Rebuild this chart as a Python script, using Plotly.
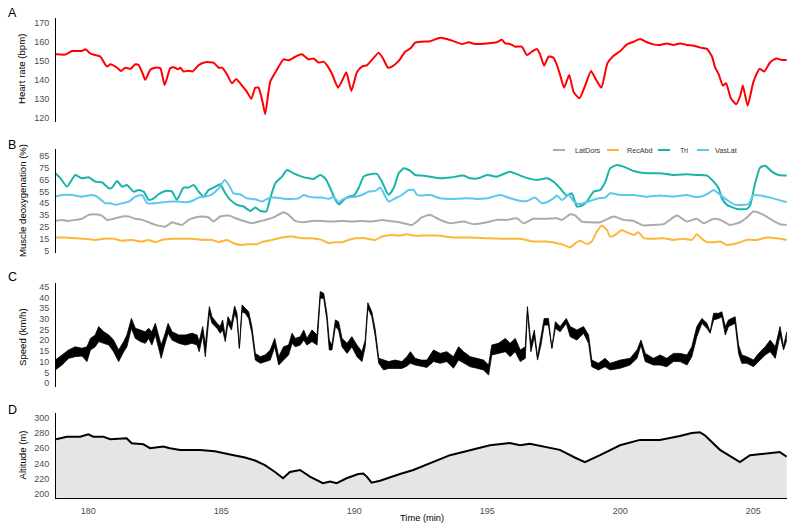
import plotly.graph_objects as go

# ---------------- data ----------------
hr_time = [178.76, 179.13, 179.39, 179.76, 179.89, 180.07, 180.33, 180.45, 180.70, 180.83, 181.08, 181.23,
           181.39, 181.58, 181.77, 181.89, 182.04, 182.14, 182.33, 182.52, 182.71, 182.87, 183.08, 183.21,
           183.37, 183.46, 183.58, 183.75, 183.92, 184.15, 184.40, 184.71, 184.90, 185.03, 185.21, 185.40,
           185.56, 185.71, 185.96, 186.13, 186.28, 186.40, 186.55, 186.65, 186.84, 187.09, 187.34, 187.53,
           187.78, 188.03, 188.28, 188.47, 188.66, 188.85, 188.97, 189.16, 189.39, 189.54, 189.70, 189.89,
           190.10, 190.29, 190.48, 190.66, 190.92, 191.08, 191.27, 191.42, 191.67, 191.92, 192.11, 192.29,
           192.52, 192.86, 193.23, 193.48, 193.73, 194.05, 194.30, 194.55, 194.99, 195.36, 195.55, 195.68,
           195.86, 196.05, 196.30, 196.49, 196.68, 196.87, 196.99, 197.14, 197.31, 197.49, 197.62, 197.74,
           197.89, 198.08, 198.25, 198.47, 198.68, 198.90, 199.06, 199.29, 199.52, 199.75, 200.00, 200.25,
           200.50, 200.75, 201.00, 201.25, 201.50, 201.75, 202.00, 202.25, 202.51, 202.76, 203.01, 203.26,
           203.45, 203.57, 203.70, 203.86, 203.98, 204.16, 204.36, 204.51, 204.61, 204.79, 205.01, 205.24,
           205.41, 205.64, 205.86, 206.08, 206.26]
hr_bpm = [153.7, 153.5, 155.4, 155.4, 156.3, 154.2, 153.0, 152.5, 147.2, 148.4, 146.6, 144.9,
          146.6, 146.0, 148.4, 148.0, 143.7, 140.2, 145.5, 146.6, 146.3, 137.5, 146.3, 146.9,
          145.8, 146.6, 144.6, 145.0, 144.6, 148.0, 149.5, 149.3, 146.6, 146.6, 143.2, 138.4,
          140.7, 138.4, 134.0, 130.2, 136.1, 136.1, 128.7, 122.1, 139.3, 145.5, 151.0, 150.5,
          152.4, 153.7, 151.0, 151.5, 149.3, 149.8, 148.0, 143.4, 136.1, 139.7, 144.2, 134.4,
          144.2, 147.2, 148.0, 150.7, 154.5, 151.5, 146.6, 147.2, 150.2, 155.1, 156.8, 159.8,
          160.3, 160.6, 162.4, 161.7, 160.6, 159.1, 160.0, 159.1, 159.4, 160.0, 161.3, 159.4,
          159.1, 157.7, 157.7, 153.3, 155.1, 156.5, 153.5, 147.7, 152.5, 151.9, 148.0, 142.8,
          136.1, 142.8, 133.7, 130.5, 137.2, 144.9, 141.1, 136.1, 149.0, 152.9, 155.4, 158.9,
          160.3, 161.7, 160.0, 158.9, 158.6, 159.4, 158.6, 159.4, 158.6, 158.2, 157.2, 156.5,
          152.5, 146.6, 143.2, 137.2, 138.4, 130.5, 127.4, 131.7, 137.2, 126.6, 139.3, 146.0,
          144.6, 149.5, 151.5, 150.7, 150.7]

latdors_time = [178.76, 179.01, 179.26, 179.51, 179.76, 180.01, 180.26, 180.51, 180.70, 180.95, 181.27, 181.52,
                181.77, 182.02, 182.27, 182.52, 182.90, 183.15, 183.27, 183.52, 183.77, 184.02, 184.27, 184.52,
                184.71, 184.96, 185.28, 185.59, 185.84, 186.15, 186.40, 186.65, 187.03, 187.34, 187.53, 187.78,
                188.10, 188.41, 188.78, 189.16, 189.54, 189.91, 190.29, 190.66, 191.04, 191.29, 191.54, 191.86,
                192.17, 192.36, 192.52, 192.86, 193.23, 193.61, 194.11, 194.49, 194.99, 195.36, 195.74, 196.11,
                196.36, 196.74, 197.24, 197.62, 197.81, 198.12, 198.31, 198.56, 198.87, 199.25, 199.75, 200.12,
                200.50, 200.88, 201.25, 201.63, 202.13, 202.51, 202.88, 203.13, 203.51, 203.76, 204.13, 204.51,
                204.76, 205.01, 205.39, 205.76, 206.01, 206.26]
latdors_val = [30.2, 31.1, 30.2, 31.1, 32.0, 35.3, 35.8, 34.7, 31.1, 32.0, 33.9, 33.9,
               32.0, 31.1, 29.1, 26.9, 25.5, 29.1, 28.3, 26.9, 31.1, 33.1, 33.9, 33.1,
               29.7, 33.9, 34.7, 32.0, 30.2, 28.3, 29.7, 31.1, 33.9, 37.5, 35.3, 30.2,
               29.1, 30.2, 30.2, 29.7, 30.2, 29.7, 30.2, 29.7, 31.1, 30.2, 29.7, 28.3,
               26.9, 29.7, 33.1, 35.3, 31.1, 28.3, 29.7, 27.5, 29.1, 31.1, 31.1, 32.5,
               28.3, 32.0, 32.0, 32.5, 31.1, 35.8, 34.7, 29.7, 29.1, 29.1, 33.9, 31.1,
               30.2, 26.4, 26.9, 27.5, 34.7, 29.7, 32.0, 28.3, 32.0, 31.1, 26.9, 29.1,
               33.1, 38.1, 35.3, 30.2, 27.5, 26.9]

recabd_time = [178.76, 179.14, 179.51, 179.89, 180.26, 180.58, 180.95, 181.27, 181.64, 182.02, 182.27, 182.52,
               182.77, 183.15, 183.52, 183.90, 184.27, 184.65, 184.90, 185.21, 185.46, 185.71, 186.03, 186.34,
               186.59, 186.91, 187.28, 187.66, 188.03, 188.41, 188.78, 189.04, 189.29, 189.54, 189.79, 190.04,
               190.41, 190.79, 191.04, 191.42, 191.67, 191.98, 192.23, 192.52, 193.11, 193.73, 194.36, 194.99,
               195.61, 196.24, 196.74, 197.24, 197.62, 197.87, 198.12, 198.31, 198.50, 198.75, 198.93, 199.12,
               199.31, 199.50, 199.62, 199.81, 200.06, 200.25, 200.50, 200.69, 200.88, 201.25, 201.63, 202.00,
               202.38, 202.69, 202.88, 203.07, 203.26, 203.51, 203.76, 204.01, 204.39, 204.76, 205.14, 205.51,
               205.89, 206.26]
recabd_val = [16.3, 16.3, 15.7, 15.2, 14.3, 15.2, 15.2, 13.5, 14.3, 12.9, 14.3, 12.4,
              14.3, 15.2, 15.2, 15.2, 14.3, 14.3, 12.4, 14.3, 11.5, 10.1, 10.7, 10.7,
              12.9, 14.3, 16.3, 17.1, 15.7, 15.7, 14.3, 11.5, 12.4, 12.4, 14.3, 15.7,
              15.7, 14.3, 17.1, 18.5, 17.9, 19.1, 17.9, 17.9, 17.9, 16.3, 16.3, 15.7,
              15.2, 15.2, 12.9, 12.9, 11.5, 10.1, 7.9, 11.5, 13.5, 10.7, 12.9, 21.3,
              26.3, 22.7, 17.1, 18.5, 22.7, 20.7, 18.5, 20.7, 15.7, 15.2, 15.7, 14.3,
              15.2, 14.3, 19.1, 15.2, 12.4, 12.4, 12.9, 10.1, 11.5, 14.3, 14.3, 16.3,
              15.7, 14.3]

tri_time = [178.76, 178.95, 179.20, 179.51, 179.76, 180.01, 180.26, 180.51, 180.77, 180.89, 181.08, 181.27,
            181.45, 181.71, 181.89, 182.08, 182.27, 182.46, 182.64, 182.90, 183.15, 183.33, 183.58, 183.77,
            183.96, 184.15, 184.34, 184.52, 184.78, 184.96, 185.15, 185.34, 185.59, 185.84, 186.09, 186.28,
            186.47, 186.69, 186.84, 187.03, 187.28, 187.47, 187.72, 188.03, 188.28, 188.47, 188.72, 188.91,
            189.10, 189.29, 189.44, 189.60, 189.79, 189.98, 190.16, 190.35, 190.60, 190.85, 191.04, 191.29,
            191.48, 191.67, 191.86, 192.11, 192.29, 192.52, 192.86, 193.23, 193.61, 194.11, 194.36, 194.67,
            194.99, 195.36, 195.86, 196.24, 196.62, 196.87, 197.24, 197.49, 197.74, 197.99, 198.18, 198.37,
            198.56, 198.75, 199.00, 199.25, 199.44, 199.62, 199.87, 200.12, 200.50, 201.00, 201.50, 202.00,
            202.51, 202.88, 203.26, 203.51, 203.70, 203.82, 204.01, 204.39, 204.76, 204.89, 205.07, 205.26,
            205.45, 205.70, 205.95, 206.26]
tri_val = [70.2, 66.0, 59.0, 68.8, 66.0, 66.9, 63.2, 62.7, 57.6, 58.2, 63.8, 59.0,
           60.4, 54.8, 56.2, 54.8, 47.9, 49.2, 52.6, 55.4, 54.8, 47.9, 58.2, 58.2,
           60.4, 54.8, 50.6, 56.2, 59.0, 61.0, 53.4, 47.9, 43.7, 42.3, 38.6, 41.4,
           38.6, 38.1, 49.2, 61.8, 67.4, 73.0, 70.2, 67.4, 66.0, 65.5, 68.8, 66.0,
           57.6, 47.9, 44.2, 47.9, 50.6, 51.5, 57.6, 67.4, 69.4, 69.7, 63.2, 52.1,
           57.6, 70.2, 74.4, 72.2, 68.8, 68.3, 67.4, 66.0, 66.6, 68.3, 66.0, 66.0,
           68.8, 67.4, 71.6, 68.3, 65.5, 64.6, 66.0, 63.2, 57.6, 51.5, 53.4, 42.3,
           43.1, 46.5, 54.8, 56.2, 63.2, 74.4, 77.2, 75.8, 72.2, 70.2, 70.2, 68.8,
           69.4, 68.8, 68.3, 63.2, 57.6, 49.2, 43.7, 40.3, 40.3, 43.7, 61.8, 75.0,
           76.6, 71.6, 68.8, 68.3]

vaslat_time = [178.76, 179.01, 179.39, 179.76, 180.14, 180.33, 180.64, 180.83, 181.02, 181.27, 181.52, 181.77,
               182.02, 182.21, 182.52, 182.83, 183.08, 183.33, 183.65, 183.90, 184.15, 184.40, 184.65, 184.90,
               185.13, 185.28, 185.46, 185.71, 185.96, 186.28, 186.53, 186.78, 187.03, 187.41, 187.66, 187.91,
               188.10, 188.28, 188.53, 188.78, 189.04, 189.22, 189.41, 189.60, 189.79, 190.04, 190.29, 190.54,
               190.79, 190.98, 191.17, 191.29, 191.54, 191.79, 192.04, 192.23, 192.36, 192.52, 192.86, 193.23,
               193.73, 194.23, 194.61, 194.99, 195.49, 195.86, 196.24, 196.49, 196.80, 197.05, 197.24, 197.49,
               197.62, 197.81, 198.06, 198.24, 198.43, 198.62, 198.87, 199.18, 199.43, 199.62, 200.00, 200.50,
               201.00, 201.50, 202.00, 202.51, 202.76, 203.01, 203.26, 203.51, 203.76, 204.01, 204.32, 204.64,
               204.82, 205.01, 205.26, 205.64, 205.95, 206.26]
vaslat_val = [50.6, 52.0, 52.0, 50.6, 52.0, 50.6, 45.1, 45.1, 43.7, 45.1, 46.5, 50.6,
              52.0, 45.1, 45.1, 45.9, 46.5, 46.5, 45.9, 47.0, 49.8, 50.6, 52.6, 57.6,
              64.6, 60.4, 53.4, 52.6, 49.2, 48.4, 46.5, 49.2, 49.8, 48.7, 48.7, 49.2,
              52.0, 50.6, 49.8, 49.8, 48.7, 50.6, 45.9, 48.7, 49.8, 50.6, 52.0, 54.8,
              55.4, 58.2, 50.6, 46.5, 49.2, 52.0, 56.2, 56.2, 52.0, 51.5, 52.0, 49.2,
              48.7, 49.2, 48.7, 49.2, 52.0, 49.2, 47.0, 47.0, 49.8, 45.1, 45.9, 49.2,
              51.5, 47.8, 52.0, 47.0, 44.2, 45.1, 47.0, 49.2, 49.8, 53.4, 52.0, 52.0,
              50.6, 51.5, 50.6, 52.0, 50.6, 50.6, 52.6, 56.2, 52.0, 47.9, 43.7, 43.7,
              44.2, 52.0, 51.5, 49.8, 47.9, 45.9]

speed_time = [178.76, 179.01, 179.26, 179.51, 179.76, 179.95, 180.08, 180.26, 180.39, 180.58, 180.77, 180.95,
              181.14, 181.33, 181.45, 181.62, 181.77, 181.96, 182.14, 182.27, 182.39, 182.52, 182.64, 182.74,
              182.87, 183.00, 183.15, 183.40, 183.65, 183.90, 184.09, 184.17, 184.30, 184.40, 184.55, 184.65,
              184.84, 184.96, 185.05, 185.15, 185.25, 185.38, 185.50, 185.59, 185.68, 185.78, 185.90, 186.03,
              186.15, 186.28, 186.47, 186.65, 186.84, 187.01, 187.16, 187.34, 187.53, 187.66, 187.78, 187.97,
              188.10, 188.22, 188.41, 188.60, 188.72, 188.85, 188.97, 189.06, 189.16, 189.29, 189.41, 189.54,
              189.73, 189.91, 190.10, 190.29, 190.41, 190.51, 190.66, 190.79, 190.92, 191.10, 191.29, 191.54,
              191.79, 191.98, 192.11, 192.29, 192.52, 192.73, 192.98, 193.23, 193.48, 193.73, 193.92, 194.11,
              194.36, 194.61, 194.86, 195.05, 195.17, 195.42, 195.68, 195.86, 196.05, 196.24, 196.43, 196.51,
              196.64, 196.77, 196.89, 197.02, 197.14, 197.30, 197.43, 197.56, 197.74, 197.97, 198.12, 198.37,
              198.62, 198.81, 198.93, 199.18, 199.43, 199.62, 200.00, 200.37, 200.63, 200.78, 200.94, 201.25,
              201.50, 201.75, 202.00, 202.25, 202.51, 202.69, 202.88, 203.07, 203.26, 203.38, 203.51, 203.70,
              203.82, 203.95, 204.07, 204.32, 204.45, 204.57, 204.76, 205.01, 205.20, 205.45, 205.64, 205.83,
              206.01, 206.14, 206.26]
speed_hi = [10.8, 13.2, 15.5, 17.0, 16.3, 17.0, 20.9, 22.5, 26.4, 24.0, 22.5, 20.1,
            15.5, 19.4, 22.5, 30.2, 25.6, 24.8, 24.0, 25.6, 24.0, 27.9, 21.7, 17.8,
            22.5, 27.9, 24.0, 22.5, 22.5, 23.3, 22.5, 19.4, 26.4, 17.8, 35.7, 31.0,
            27.9, 26.4, 29.5, 21.7, 31.0, 27.9, 36.0, 32.6, 16.3, 36.5, 34.9, 33.3,
            26.4, 13.9, 12.4, 13.2, 15.5, 20.9, 12.4, 17.0, 17.8, 23.3, 20.9, 21.7,
            24.8, 20.9, 24.8, 22.5, 42.7, 41.9, 32.6, 20.1, 17.8, 29.5, 28.7, 20.9,
            18.6, 21.7, 17.8, 14.7, 20.1, 37.5, 33.3, 24.8, 11.6, 10.8, 10.1, 10.8,
            10.1, 12.4, 14.7, 11.6, 10.8, 10.8, 15.5, 13.9, 14.7, 12.4, 17.0, 14.7,
            12.4, 11.6, 10.8, 8.5, 17.8, 18.6, 20.9, 18.6, 20.9, 15.5, 17.0, 35.7,
            18.6, 24.8, 12.4, 21.7, 30.2, 30.2, 16.3, 28.7, 26.4, 30.2, 26.4, 24.8,
            26.4, 22.5, 10.8, 9.3, 11.6, 9.3, 10.8, 11.6, 15.5, 20.1, 13.9, 11.6,
            13.2, 11.6, 13.9, 13.9, 13.2, 17.0, 26.4, 30.2, 27.9, 24.0, 32.6, 32.6,
            33.3, 26.4, 29.5, 31.0, 17.8, 13.2, 12.4, 10.8, 13.9, 17.0, 20.1, 17.0,
            26.4, 17.0, 24.0]
speed_lo = [6.2, 8.5, 11.6, 12.4, 12.7, 10.1, 15.5, 17.0, 19.4, 18.6, 17.8, 14.7,
            10.1, 14.7, 17.0, 25.6, 20.9, 19.4, 18.6, 20.9, 17.8, 22.5, 17.0, 11.6,
            17.8, 23.3, 20.1, 18.6, 17.8, 18.6, 17.8, 14.7, 22.5, 12.4, 32.6, 27.9,
            25.6, 23.3, 24.8, 19.4, 27.9, 24.8, 32.6, 29.5, 16.3, 33.3, 32.6, 30.2,
            23.3, 10.8, 9.3, 10.1, 10.8, 17.0, 8.5, 10.8, 13.2, 18.6, 17.0, 17.8,
            20.1, 17.8, 19.4, 17.8, 39.6, 39.6, 29.5, 15.5, 15.5, 26.4, 24.8, 17.0,
            13.9, 17.0, 12.4, 10.1, 17.0, 34.9, 31.0, 21.7, 9.3, 6.2, 6.9, 6.9,
            6.9, 8.0, 9.3, 8.5, 8.0, 7.4, 10.1, 9.3, 10.1, 7.0, 10.8, 9.3,
            7.7, 7.0, 6.2, 3.8, 13.2, 13.9, 14.7, 12.4, 14.7, 10.1, 11.6, 33.3,
            14.7, 21.7, 10.8, 17.8, 27.1, 27.1, 16.3, 25.6, 24.0, 27.9, 21.7, 20.1,
            23.3, 18.6, 7.7, 6.2, 7.7, 6.2, 7.0, 8.5, 11.6, 17.8, 10.1, 8.5,
            8.5, 7.7, 10.1, 10.1, 8.5, 12.4, 21.7, 27.9, 25.6, 23.3, 29.5, 30.2,
            31.0, 22.5, 26.4, 27.9, 13.9, 9.3, 9.3, 7.7, 10.1, 13.2, 14.7, 11.6,
            22.5, 15.5, 20.1]

alt_time = [178.79, 179.19, 179.69, 180.00, 180.19, 180.56, 180.82, 181.44, 181.63, 182.07, 182.32, 182.82,
            183.07, 183.45, 184.20, 184.76, 185.33, 185.89, 186.27, 186.64, 187.02, 187.32, 187.58, 187.96,
            188.33, 188.82, 189.09, 189.34, 189.71, 190.15, 190.34, 190.47, 190.65, 190.97, 191.72, 192.22,
            193.60, 195.10, 195.85, 196.23, 196.60, 197.73, 198.29, 198.67, 199.24, 199.99, 200.74, 201.49,
            202.24, 202.69, 202.99, 203.18, 203.75, 204.31, 204.50, 204.88, 205.63, 206.00, 206.26]
alt_m = [271.8, 275.2, 275.2, 278.3, 275.2, 275.2, 271.8, 273.1, 266.6, 265.2, 260.1, 262.3,
         260.1, 257.8, 257.8, 256.0, 252.0, 248.0, 244.0, 238.0, 229.0, 221.0, 229.0, 231.7,
         223.0, 214.4, 216.5, 214.4, 220.9, 226.5, 227.2, 223.0, 215.1, 217.6, 226.5, 231.7,
         251.0, 264.0, 267.0, 264.0, 266.0, 258.0, 248.0, 242.0, 251.0, 264.0, 271.0, 271.0,
         276.0, 280.0, 281.0, 277.0, 258.0, 246.0, 242.0, 251.0, 254.0, 255.0, 249.0]

muscle_names = ["LatDors", "RecAbd", "Tri", "VasLat"]
muscle_colors = ["#ABABAB", "#FDB737", "#19B3A9", "#5CC8EE"]
x_ticks = [180, 185, 190, 195, 200, 205]

# ---------------- layout helpers ----------------
W, H = 792, 528
ML, MR, MT, MB = 56, 5, 18, 30
PW, PH = W - ML - MR, H - MT - MB


def pxx(px):
    return (px - ML) / PW


def pxy(py):
    return (H - MB - py) / PH


FONT = "Liberation Sans, Arial, sans-serif"
TICKC = "#4D4D4D"

fig = go.Figure()

# Panel A
fig.add_trace(go.Scatter(x=hr_time, y=hr_bpm, mode="lines", showlegend=False,
                         line=dict(color="#FF0000", width=2, shape="spline", smoothing=0.5),
                         xaxis="x", yaxis="y"))

# Panel B
muscle_data = [(latdors_time, latdors_val), (recabd_time, recabd_val),
               (tri_time, tri_val), (vaslat_time, vaslat_val)]
for name, col, (t, v) in zip(muscle_names, muscle_colors, muscle_data):
    fig.add_trace(go.Scatter(x=t, y=v, mode="lines", name=name, showlegend=False,
                             line=dict(color=col, width=2, shape="spline", smoothing=0.5),
                             xaxis="x2", yaxis="y2"))

# Panel C (noisy speed drawn as its min/max envelope)
fig.add_trace(go.Scatter(x=speed_time, y=speed_lo, mode="lines", showlegend=False,
                         line=dict(color="black", width=0.8), xaxis="x3", yaxis="y3"))
fig.add_trace(go.Scatter(x=speed_time, y=speed_hi, mode="lines", showlegend=False,
                         line=dict(color="black", width=0.8), fill="tonexty", fillcolor="black",
                         xaxis="x3", yaxis="y3"))

# Panel D
fig.add_trace(go.Scatter(x=alt_time, y=alt_m, mode="lines", showlegend=False,
                         line=dict(color="black", width=2), fill="tozeroy", fillcolor="#E5E5E5",
                         xaxis="x4", yaxis="y4"))

xr = [178.785, 206.27]
panels = [
    # (y-domain pixels top,bottom), y-range, tickvals
    ((18, 122), [118.0, 172.8], list(range(120, 171, 10))),
    ((149, 253), [3.3, 90.6], list(range(5, 86, 10))),
    ((283, 387), [-1.74, 46.7], list(range(0, 46, 5))),
    ((413, 498), [195.1, 306.1], list(range(200, 301, 20))),
]

layout = dict(width=W, height=H, margin=dict(l=ML, r=MR, t=MT, b=MB),
              paper_bgcolor="white", plot_bgcolor="white",
              font=dict(family=FONT, size=9, color=TICKC), showlegend=False)

for i, ((top, bot), yr, tv) in enumerate(panels):
    sfx = "" if i == 0 else str(i + 1)
    last = (i == 3)
    layout["xaxis" + sfx] = dict(domain=[0, 1], range=xr, anchor="y" + sfx,
                                 showgrid=False, zeroline=False,
                                 showline=last, linecolor="black", linewidth=1,
                                 showticklabels=last, tickvals=x_ticks,
                                 ticks="outside" if last else "", ticklen=4,
                                 tickcolor="rgba(0,0,0,0)",
                                 tickfont=dict(size=9, color=TICKC, family=FONT))
    layout["yaxis" + sfx] = dict(domain=[pxy(bot), pxy(top)], range=yr, anchor="x" + sfx,
                                 showgrid=False, zeroline=False, showline=True,
                                 linecolor="black", linewidth=1, tickvals=tv,
                                 ticks="outside", ticklen=4, tickcolor="rgba(0,0,0,0)",
                                 tickfont=dict(size=9, color=TICKC, family=FONT))

fig.update_layout(**layout)

# Panel letters, axis titles
ann = []
for letter, py in zip("ABCD", [13, 145, 277, 410]):
    ann.append(dict(text=letter, x=pxx(12), y=pxy(py), xref="paper", yref="paper",
                    showarrow=False, xanchor="center", yanchor="middle",
                    font=dict(size=12.5, color="black", family=FONT)))
ytitles = ["Heart rate (bpm)", "Muscle deoxygenation (%)", "Speed (km/h)", "Altitude (m)"]
for title, py in zip(ytitles, [69, 201, 337, 455.5]):
    ann.append(dict(text=title, x=pxx(22), y=pxy(py), xref="paper", yref="paper",
                    showarrow=False, textangle=-90, xanchor="center", yanchor="middle",
                    font=dict(size=9.6, color="black", family=FONT)))
ann.append(dict(text="Time (min)", x=pxx(421.5), y=pxy(518), xref="paper", yref="paper",
                showarrow=False, xanchor="center", yanchor="middle",
                font=dict(size=9.3, color="black", family=FONT)))

# Legend (drawn to match the compact ggplot legend)
shapes = []
leg_line = [(553, 565), (607, 619), (658, 670), (697, 709)]
leg_text = [573, 625, 678, 713]
for name, col, (x0, x1), tx in zip(muscle_names, muscle_colors, leg_line, leg_text):
    shapes.append(dict(type="line", xref="paper", yref="paper", x0=pxx(x0), x1=pxx(x1),
                       y0=pxy(150), y1=pxy(150), line=dict(color=col, width=2)))
    ann.append(dict(text=name, x=pxx(tx), y=pxy(150), xref="paper", yref="paper",
                    showarrow=False, xanchor="left", yanchor="middle",
                    font=dict(size=7.2, color="#333333", family=FONT)))

fig.update_layout(annotations=ann, shapes=shapes)
fig.write_html("out.html", config={"displayModeBar": False},
               post_script="document.body.style.margin='0px';document.body.style.overflow='hidden';")
